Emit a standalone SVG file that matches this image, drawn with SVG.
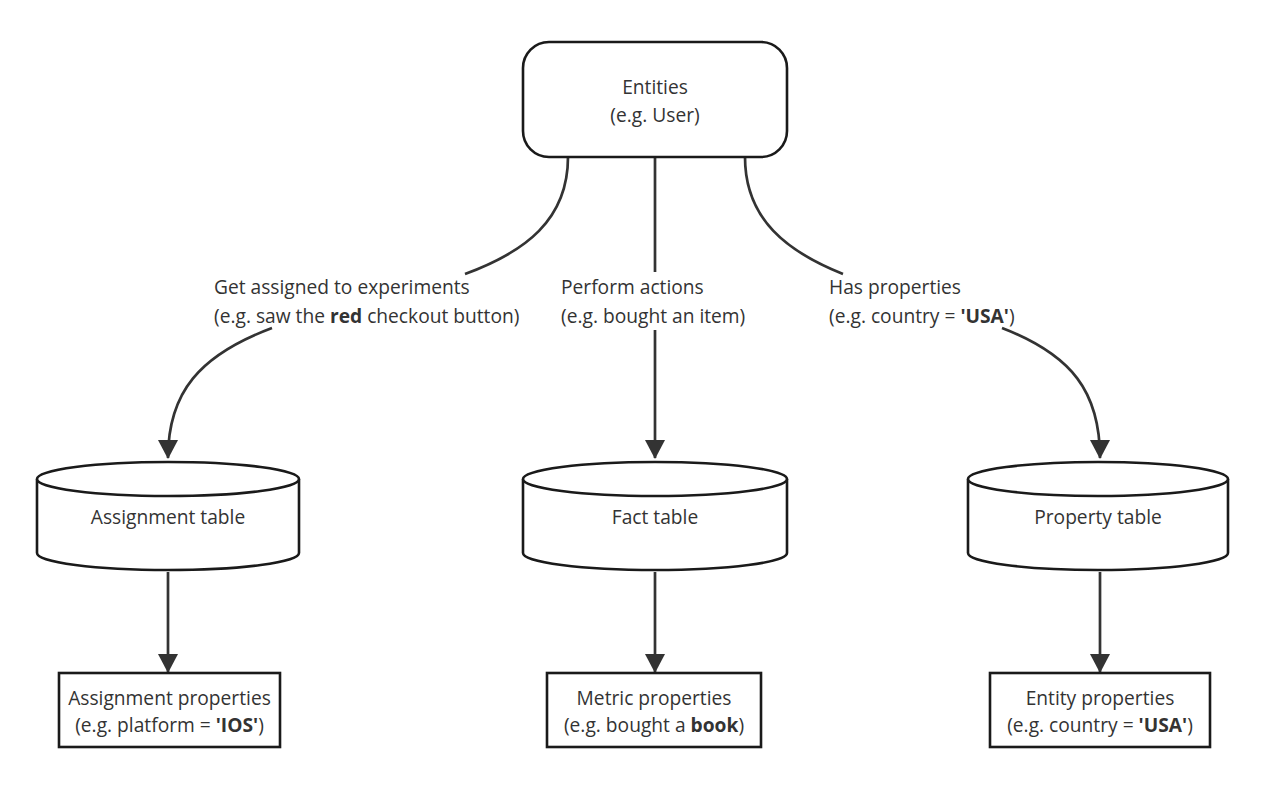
<svg xmlns="http://www.w3.org/2000/svg" width="1270" height="787" viewBox="0 0 1270 787">
<style>
text{font-family:"Open Sans","Noto Sans",sans-serif;font-size:19.2px;fill:#333}
.c{text-anchor:middle}
.b{font-weight:bold}
.box{fill:#fff;stroke:#1a1a1a;stroke-width:2.6}
.ln{fill:none;stroke:#333;stroke-width:2.7}
</style>
<defs>
<marker id="ah" markerWidth="22" markerHeight="20" refX="18" refY="10" orient="auto" markerUnits="userSpaceOnUse">
<path d="M0,0 L19,10 L0,20 Z" fill="#333"/>
</marker>
</defs>
<rect width="1270" height="787" fill="#fff"/>
<g id="connectors">
<path class="ln" d="M568,157 C568,220 525,252 465,274"/>
<path class="ln" d="M272,328 C200,355 168,392 168,458" marker-end="url(#ah)"/>
<path class="ln" d="M655,157 L655,272"/>
<path class="ln" d="M655,330 L655,458" marker-end="url(#ah)"/>
<path class="ln" d="M745,157 C745,220 788,252 843,274"/>
<path class="ln" d="M1002,328 C1072,355 1100,392 1100,458" marker-end="url(#ah)"/>
<path class="ln" d="M168,572 L168,672" marker-end="url(#ah)"/>
<path class="ln" d="M655,572 L655,672" marker-end="url(#ah)"/>
<path class="ln" d="M1100,572 L1100,672" marker-end="url(#ah)"/>
</g>
<g id="labels">
<text x="214" y="294">Get assigned to experiments</text>
<text x="214" y="323">(e.g. saw the <tspan class="b">red</tspan> checkout button)</text>
<text x="561" y="294">Perform actions</text>
<text x="561" y="323">(e.g. bought an item)</text>
<text x="829" y="294">Has properties</text>
<text x="829" y="323">(e.g. country = <tspan class="b">'USA'</tspan>)</text>
</g>
<g id="entities">
<rect class="box" x="523" y="42" width="264" height="115" rx="26"/>
<text class="c" x="655" y="94">Entities</text>
<text class="c" x="655" y="122">(e.g. User)</text>
</g>
<g id="assignment-table">
<path class="box" d="M37,479 L37,553 A131,17 0 0 0 299,553 L299,479 A131,17 0 0 0 37,479 Z"/>
<path class="box" fill="none" d="M37,479 A131,17 0 0 0 299,479"/>
<text class="c" x="168" y="524">Assignment table</text>
</g>
<g id="fact-table">
<path class="box" d="M523,479 L523,553 A132,17 0 0 0 787,553 L787,479 A132,17 0 0 0 523,479 Z"/>
<path class="box" fill="none" d="M523,479 A132,17 0 0 0 787,479"/>
<text class="c" x="655" y="524">Fact table</text>
</g>
<g id="property-table">
<path class="box" d="M968,479 L968,553 A130,17 0 0 0 1228,553 L1228,479 A130,17 0 0 0 968,479 Z"/>
<path class="box" fill="none" d="M968,479 A130,17 0 0 0 1228,479"/>
<text class="c" x="1098" y="524">Property table</text>
</g>
<g id="assignment-properties">
<rect class="box" x="59" y="673" width="221" height="74"/>
<text class="c" x="169.5" y="705">Assignment properties</text>
<text class="c" x="169.5" y="732">(e.g. platform = <tspan class="b">'IOS'</tspan>)</text>
</g>
<g id="metric-properties">
<rect class="box" x="547" y="673" width="214" height="74"/>
<text class="c" x="654" y="705">Metric properties</text>
<text class="c" x="654" y="732">(e.g. bought a <tspan class="b">book</tspan>)</text>
</g>
<g id="entity-properties">
<rect class="box" x="990" y="673" width="220" height="74"/>
<text class="c" x="1100" y="705">Entity properties</text>
<text class="c" x="1100" y="732">(e.g. country = <tspan class="b">'USA'</tspan>)</text>
</g>
</svg>
